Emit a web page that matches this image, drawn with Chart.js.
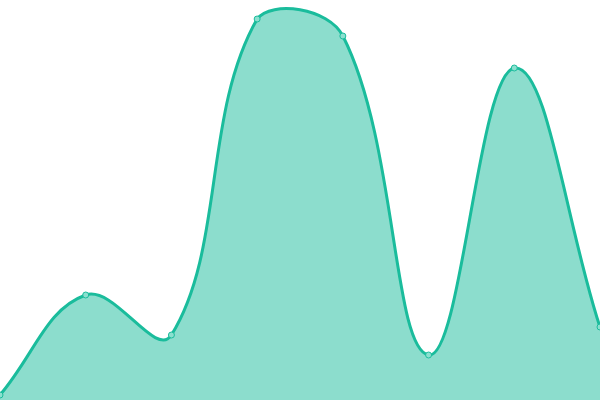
<!DOCTYPE html>
<html>
<head>
<meta charset="utf-8">
<script src="https://cdn.jsdelivr.net/npm/chart.js@4/dist/chart.umd.min.js"></script>
<style>
  html, body { margin: 0; padding: 0; background: #fff; overflow: hidden; width: 600px; height: 400px; }
  /* line overflow insets the chart area by 5px, so the canvas is 5px bigger on each side */
  #wrap { position: absolute; left: -5px; top: -5px; width: 610px; height: 410px; }
</style>
</head>
<body>
<div id="wrap"><canvas id="areaChart"></canvas></div>
<script>
// data (axis hidden, 0..400)
const labels = ['1', '2', '3', '4', '5', '6', '7', '8'];
const values = [5, 105, 65, 381, 364, 45, 332, 73];
const yMin = 0;
const yMax = 400;

const ctx = document.getElementById('areaChart').getContext('2d');
const chart = new Chart(ctx, {
    type: 'line',
    data: {
        labels: labels,
        datasets: [{
            data: values,
            borderColor: '#1abc9c',
            backgroundColor: 'rgba(26, 188, 156, 0.5)',
            borderWidth: 3,
            tension: 0.4,
            fill: 'origin',
            pointRadius: 3,
            pointBorderWidth: 1,
            pointBackgroundColor: '#8be0cf',
            pointBorderColor: '#1abc9c'
        }]
    },
    options: {
        responsive: true,
        maintainAspectRatio: false,
        animation: false,
        layout: { padding: 0 },
        plugins: {
            legend: { display: false },
            tooltip: { enabled: false }
        },
        scales: {
            x: { display: false, offset: false },
            y: { display: false, min: yMin, max: yMax }
        }
    }
});
</script>
</body>
</html>
